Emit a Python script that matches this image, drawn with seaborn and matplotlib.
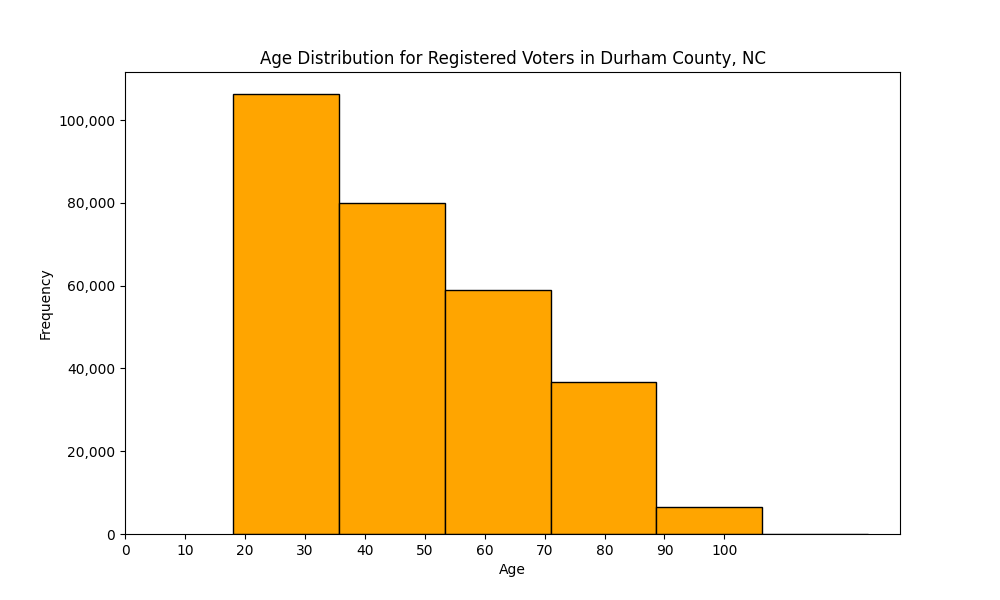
import matplotlib
matplotlib.use("Agg")
import matplotlib.pyplot as plt
import matplotlib.ticker as mticker
import seaborn as sns
import numpy as np
import pandas as pd

# Histogram bin edges (age) and counts per bin
bin_edges = [18.0, 35.67, 53.33, 71.0, 88.67, 106.33, 124.0]
counts = [106300, 79950, 58950, 36700, 6520, 60]
x_ticks = [0, 10, 20, 30, 40, 50, 60, 70, 80, 90, 100]

edges = np.array(bin_edges)
centers = (edges[:-1] + edges[1:]) / 2
df = pd.DataFrame({"Age": centers, "count": counts})

fig, ax = plt.subplots(figsize=(10, 6), dpi=100)
sns.histplot(data=df, x="Age", weights="count", bins=list(bin_edges), color="orange",
             edgecolor="black", alpha=1.0, linewidth=1, ax=ax)
ax.set_title("Age Distribution for Registered Voters in Durham County, NC")
ax.set_xlabel("Age")
ax.set_ylabel("Frequency")
ax.set_xticks(x_ticks)
ax.set_xlim(left=0)
ax.yaxis.set_major_formatter(mticker.FuncFormatter(lambda v, p: f"{int(v):,}"))
fig.savefig("out.png", dpi=100)
